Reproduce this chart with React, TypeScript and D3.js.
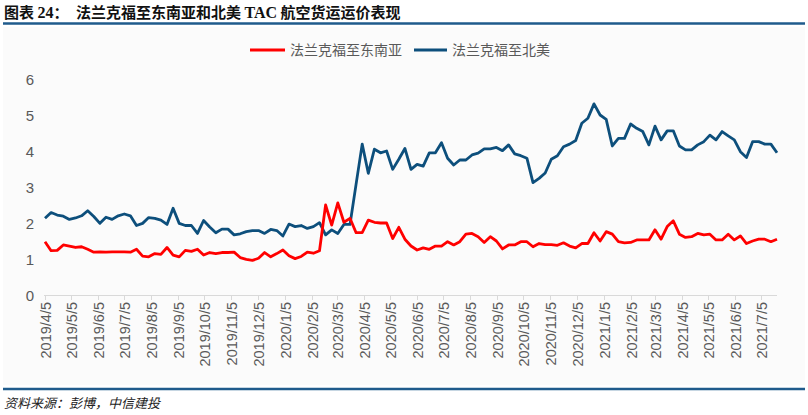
import React from "react";
import * as d3 from "d3";

const START = "2019-04-05";
const WEEKS = 121;

const seAsia = [
  1.48, 1.23, 1.24, 1.39, 1.36, 1.32, 1.34, 1.27, 1.19, 1.2, 1.19, 1.2, 1.2, 1.2, 1.19, 1.27, 1.08, 1.06, 1.15, 1.13,
  1.32, 1.11, 1.06, 1.24, 1.21, 1.27, 1.11, 1.18, 1.15, 1.18, 1.18, 1.19, 1.04, 0.99, 0.96, 1.02, 1.18, 1.06, 1.15, 1.25,
  1.09, 1.01, 1.07, 1.19, 1.16, 1.23, 2.5, 1.94, 2.56, 2.02, 2.13, 1.73, 1.73, 2.08, 2.02, 2.0, 2.0, 1.57, 1.88, 1.55,
  1.36, 1.25, 1.31, 1.27, 1.36, 1.36, 1.48, 1.39, 1.48, 1.69, 1.71, 1.62, 1.46, 1.62, 1.5, 1.28, 1.39, 1.39, 1.48, 1.48,
  1.34, 1.43, 1.4, 1.4, 1.38, 1.45, 1.36, 1.31, 1.43, 1.43, 1.73, 1.5, 1.76, 1.69, 1.48, 1.45, 1.46, 1.53, 1.53, 1.53,
  1.81, 1.55, 1.9, 2.06, 1.69, 1.6, 1.62, 1.71, 1.67, 1.69, 1.53, 1.53, 1.69, 1.53, 1.64, 1.43, 1.5, 1.55, 1.55, 1.48,
  1.55,
];

const northAmerica = [
  2.13, 2.29, 2.22, 2.19, 2.1, 2.14, 2.2, 2.34, 2.18, 1.99, 2.16, 2.1, 2.2, 2.25, 2.2, 1.93, 1.99, 2.15, 2.13, 2.08,
  1.96, 2.41, 1.99, 1.93, 1.93, 1.71, 2.07, 1.89, 1.73, 1.83, 1.83, 1.67, 1.7, 1.76, 1.79, 1.79, 1.71, 1.82, 1.79, 1.64,
  1.97, 1.9, 1.93, 1.85, 1.9, 2.01, 1.67, 1.81, 1.71, 1.96, 1.96, 3.08, 4.19, 3.38, 4.05, 3.95, 4.0, 3.49, 3.77, 4.07,
  3.49, 3.63, 3.58, 3.95, 3.95, 4.23, 3.8, 3.61, 3.75, 3.75, 3.89, 3.94, 4.06, 4.06, 4.1, 4.01, 4.17, 3.92, 3.87, 3.8,
  3.12, 3.24, 3.39, 3.77, 3.87, 4.12, 4.19, 4.29, 4.77, 4.91, 5.31, 5.0, 4.88, 4.14, 4.35, 4.35, 4.75, 4.63, 4.54, 4.17,
  4.69, 4.31, 4.56, 4.56, 4.14, 4.03, 4.03, 4.17, 4.26, 4.44, 4.31, 4.54, 4.42, 4.31, 3.98, 3.82, 4.26, 4.26, 4.19, 4.19,
  3.95,
];

const tickLabels = [
  "2019/4/5", "2019/5/5", "2019/6/5", "2019/7/5", "2019/8/5", "2019/9/5", "2019/10/5", "2019/11/5", "2019/12/5",
  "2020/1/5", "2020/2/5", "2020/3/5", "2020/4/5", "2020/5/5", "2020/6/5", "2020/7/5", "2020/8/5", "2020/9/5",
  "2020/10/5", "2020/11/5", "2020/12/5", "2021/1/5", "2021/2/5", "2021/3/5", "2021/4/5", "2021/5/5", "2021/6/5",
  "2021/7/5",
];
const yTicks = [0, 1, 2, 3, 4, 5, 6];
const seriesNames = ["法兰克福至东南亚", "法兰克福至北美"];
const colors = ["#ff0000", "#0d4f7c"];

const parse = (s: string) => {
  const [y, m, d] = s.split(/[-/]/).map(Number);
  return new Date(y, m - 1, d);
};

export default function App() {
  const W = 808, H = 415;
  const start = parse(START);
  const dates = d3.range(WEEKS).map((i) => d3.timeDay.offset(start, i * 7));
  const x = d3.scaleTime().domain([dates[0], dates[dates.length - 1]]).range([45, 777]);
  const y = d3.scaleLinear().domain([0, 6]).range([295, 79]);
  const line = d3
    .line<number>()
    .x((_, i) => x(dates[i]))
    .y((v) => y(v));
  const gray = "#595959";
  const sans = "'Liberation Sans', Arial, sans-serif";
  const cjk = "'Noto Sans CJK SC', sans-serif";
  const serif = "'Liberation Serif', 'Times New Roman', serif";

  return (
    <svg width={W} height={H} style={{ position: "absolute", left: 0, top: 0, display: "block" }}>
      <rect x={0} y={0} width={W} height={H} fill="#fff" />
      <rect x={3} y={27} width={802} height={358} fill="#fbfbfb" />
      <text x={4} y={18} fontSize={15} fontWeight="bold" fill="#111" fontFamily={cjk}>
        <tspan>图表 </tspan>
        <tspan fontFamily={serif} fontSize={16}>24</tspan>
        <tspan>：</tspan>
        <tspan x={76}>法兰克福至东南亚和北美 </tspan>
        <tspan fontFamily={serif} fontSize={16}>TAC</tspan>
        <tspan> 航空货运运价表现</tspan>
      </text>
      <line x1={3} x2={805} y1={23.5} y2={23.5} stroke="#1f5b8c" strokeWidth={2.5} />

      {/* legend */}
      <g fontFamily={cjk} fontSize={14} fill={gray}>
        <line x1={250} x2={285} y1={50} y2={50} stroke={colors[0]} strokeWidth={3} />
        <text x={290} y={55}>{seriesNames[0]}</text>
        <line x1={414} x2={447} y1={50} y2={50} stroke={colors[1]} strokeWidth={3} />
        <text x={452} y={55}>{seriesNames[1]}</text>
      </g>

      {/* y axis labels */}
      <g fontFamily={sans} fontSize={15} fill={gray} textAnchor="end">
        {yTicks.map((t) => (
          <text key={t} x={34} y={y(t) + 5.5}>
            {t}
          </text>
        ))}
      </g>

      {/* x axis */}
      <line x1={44} x2={777} y1={295.5} y2={295.5} stroke="#d9d9d9" strokeWidth={1} />
      <g fontFamily={sans} fontSize={14.5} fill={gray}>
        {tickLabels.map((lab) => {
          const px = Math.round(x(parse(lab))) + 0.5;
          return (
            <g key={lab}>
              <line x1={px} x2={px} y1={295} y2={300} stroke="#d9d9d9" />
              <text transform={`translate(${px + 5},302) rotate(-90)`} textAnchor="end">
                {lab}
              </text>
            </g>
          );
        })}
      </g>

      {/* lines */}
      <path d={line(northAmerica) || ""} fill="none" stroke={colors[1]} strokeWidth={2.8} strokeLinejoin="round" />
      <path d={line(seAsia) || ""} fill="none" stroke={colors[0]} strokeWidth={2.8} strokeLinejoin="round" />

      <line x1={3} x2={805} y1={389} y2={389} stroke="#1f5b8c" strokeWidth={2.5} />
      <text x={4} y={408} fontSize={13} fontStyle="italic" fill="#222" fontFamily={cjk}>
        资料来源：彭博，中信建投
      </text>
    </svg>
  );
}
